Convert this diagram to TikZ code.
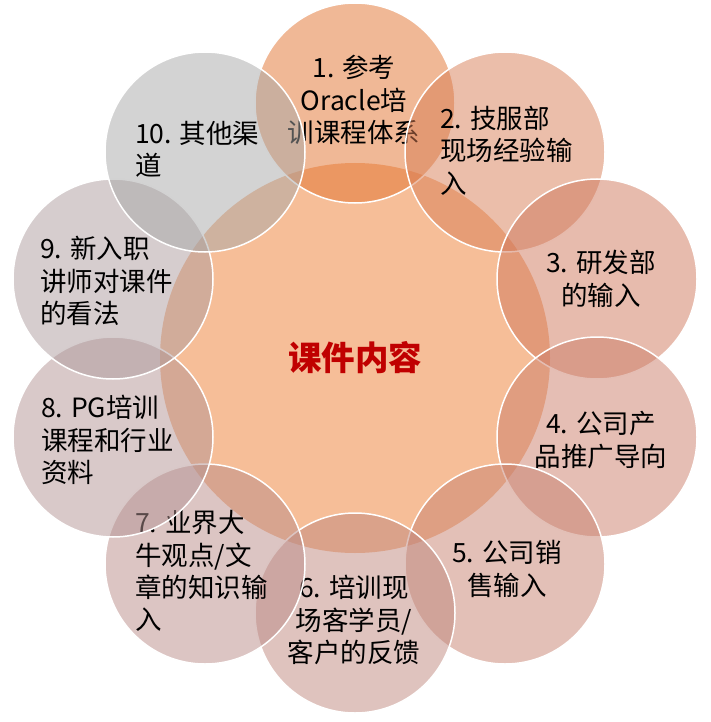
\documentclass[tikz,border=0pt]{standalone}
\usepackage{fontspec}
\setmainfont{Noto Sans CJK SC}
\definecolor{cc}{RGB}{237,125,49}
\definecolor{c1}{RGB}{225,113,45}
\definecolor{c2}{RGB}{215,125,85}
\definecolor{c3}{RGB}{207,119,91}
\definecolor{c4}{RGB}{203,125,105}
\definecolor{c5}{RGB}{199,129,111}
\definecolor{c6}{RGB}{191,135,125}
\definecolor{c7}{RGB}{185,139,135}
\definecolor{c8}{RGB}{179,147,147}
\definecolor{c9}{RGB}{173,155,157}
\definecolor{c10}{RGB}{167,167,167}
\definecolor{ctxt}{RGB}{192,0,0}
\tikzset{
  sat/.style={circle, minimum size=200pt, inner sep=0pt, draw=white, line width=1.5pt, fill opacity=0.5, text opacity=1},
  lbl/.style={inner sep=0pt, font=\fontsize{26.5}{32.3}\selectfont, text=black},
  lblc/.style={lbl, align=center},
  lbll/.style={lbl, align=left, anchor=west},
}
\begin{document}
\begin{tikzpicture}[x=1pt,y=-1pt]
\useasboundingbox (0,0) rectangle (710,722);
\node[circle, minimum size=390pt, inner sep=0pt, fill=cc, fill opacity=0.5] (center) at (355,358) {};
\node[sat, fill=c1] (s1) at (355,103) {};
\node[lblc] (t1) at (354,100) {1. 参考\\Oracle培\\训课程体系};
\node[sat, fill=c2] (s2) at (505,152) {};
\node[lbll] (t2) at (440,150.5) {2. 技服部\\现场经验输\\入};
\node[sat, fill=c3] (s3) at (597,279) {};
\node[lblc] (t3) at (601,279) {3. 研发部\\的输入};
\node[sat, fill=c4] (s4) at (597,437) {};
\node[lblc] (t4) at (601,440) {4. 公司产\\品推广导向};
\node[sat, fill=c5] (s5) at (505,564) {};
\node[lblc] (t5) at (507,569) {5. 公司销\\售输入};
\node[sat, fill=c6] (s6) at (355,613) {};
\node[lblc] (t6) at (354,620) {6. 培训现\\场客学员/\\客户的反馈};
\node[sat, fill=c7] (s7) at (205,564) {};
\node[lbll] (t7) at (135,571) {7. 业界大\\牛观点/文\\章的知识输\\入};
\node[sat, fill=c8] (s8) at (113,437) {};
\node[lbll] (t8) at (41,440) {8. PG培训\\课程和行业\\资料};
\node[sat, fill=c9] (s9) at (113,279) {};
\node[lbll] (t9) at (40,281) {9. 新入职\\讲师对课件\\的看法};
\node[sat, fill=c10] (s10) at (205,152) {};
\node[lbll] (t10) at (135,149) {10. 其他渠\\道};
\node[inner sep=0pt, font=\fontsize{33.5}{40}\selectfont\bfseries, text=ctxt] (tc) at (355,358) {课件内容};
\end{tikzpicture}
\end{document}
